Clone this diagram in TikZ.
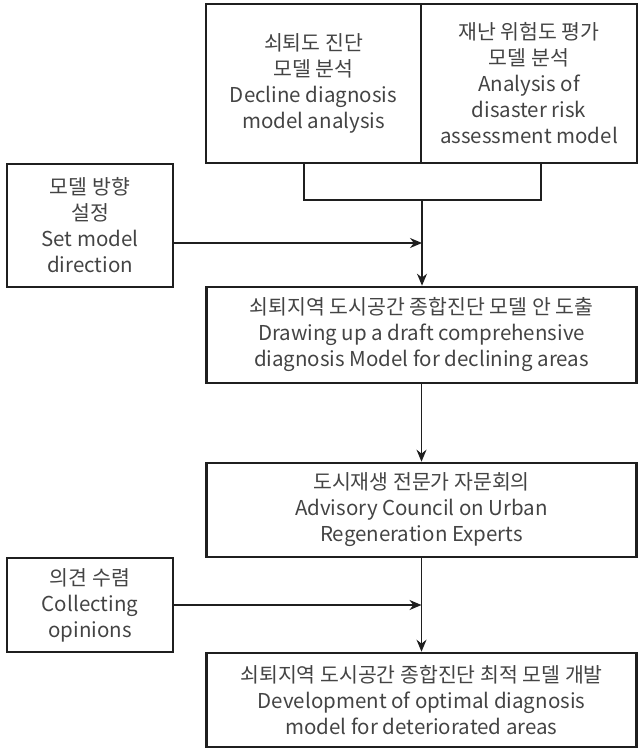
\documentclass[tikz,border=0pt]{standalone}
\usepackage{fontspec}
\setmainfont{Noto Sans CJK KR}
\usetikzlibrary{arrows.meta}
\definecolor{txtgray}{HTML}{444444}

\begin{document}
\begin{tikzpicture}[x=1pt, y=-1pt,
    box/.style={draw=black!88, line width=2.6pt, align=center, text=txtgray,
        font=\fontsize{20.5}{26}\selectfont, inner sep=0pt},
    line/.style={draw=black!88, line width=1.3pt},
    link/.style={line, -{Stealth[length=12pt, width=10pt]}}]
    \useasboundingbox (0,0) rectangle (640,749);

    % Analysis boxes
    \node[box, minimum width=215pt, minimum height=159pt] (dec) at (313.5,83.5)
        {쇠퇴도 진단\\모델 분석\\Decline diagnosis\\model analysis};
    \node[box, minimum width=216pt, minimum height=159pt] (risk) at (529,83.5)
        {재난 위험도 평가\\모델 분석\\Analysis of\\disaster risk\\assessment model};

    % Side inputs
    \node[box, minimum width=166pt, minimum height=123pt] (set) at (90,225.5)
        {모델 방향\\설정\\Set model\\direction};
    \node[box, minimum width=166pt, minimum height=94pt] (opinion) at (90,605)
        {의견 수렴\\Collecting\\opinions};

    % Main flow
    \node[box, minimum width=430pt, minimum height=96pt] (draft) at (421.5,335)
        {쇠퇴지역 도시공간 종합진단 모델 안 도출\\Drawing up a draft comprehensive\\diagnosis Model for declining areas};
    \node[box, minimum width=430pt, minimum height=94pt] (council) at (421.5,510)
        {도시재생 전문가 자문회의\\Advisory Council on Urban\\Regeneration Experts};
    \node[box, minimum width=430pt, minimum height=94pt] (optimal) at (421.5,700)
        {쇠퇴지역 도시공간 종합진단 최적 모델 개발\\Development of optimal diagnosis\\model for deteriorated areas};

    % Connectors
    \coordinate (join) at (422,200);
    \coordinate (in1) at (422,243);
    \draw[line] ([xshift=-9.5pt]dec.south) |- (join) -| ([xshift=12pt]risk.south);
    \draw[link] (join) -- (join |- draft.north);
    \draw[link] (set.east |- in1) -- (in1);
    \draw[link] (draft.south) -- (council.north);
    \draw[link] (council.south) -- (optimal.north);
    \draw[link] (opinion.east) -- (opinion.east -| council.south);
\end{tikzpicture}
\end{document}
